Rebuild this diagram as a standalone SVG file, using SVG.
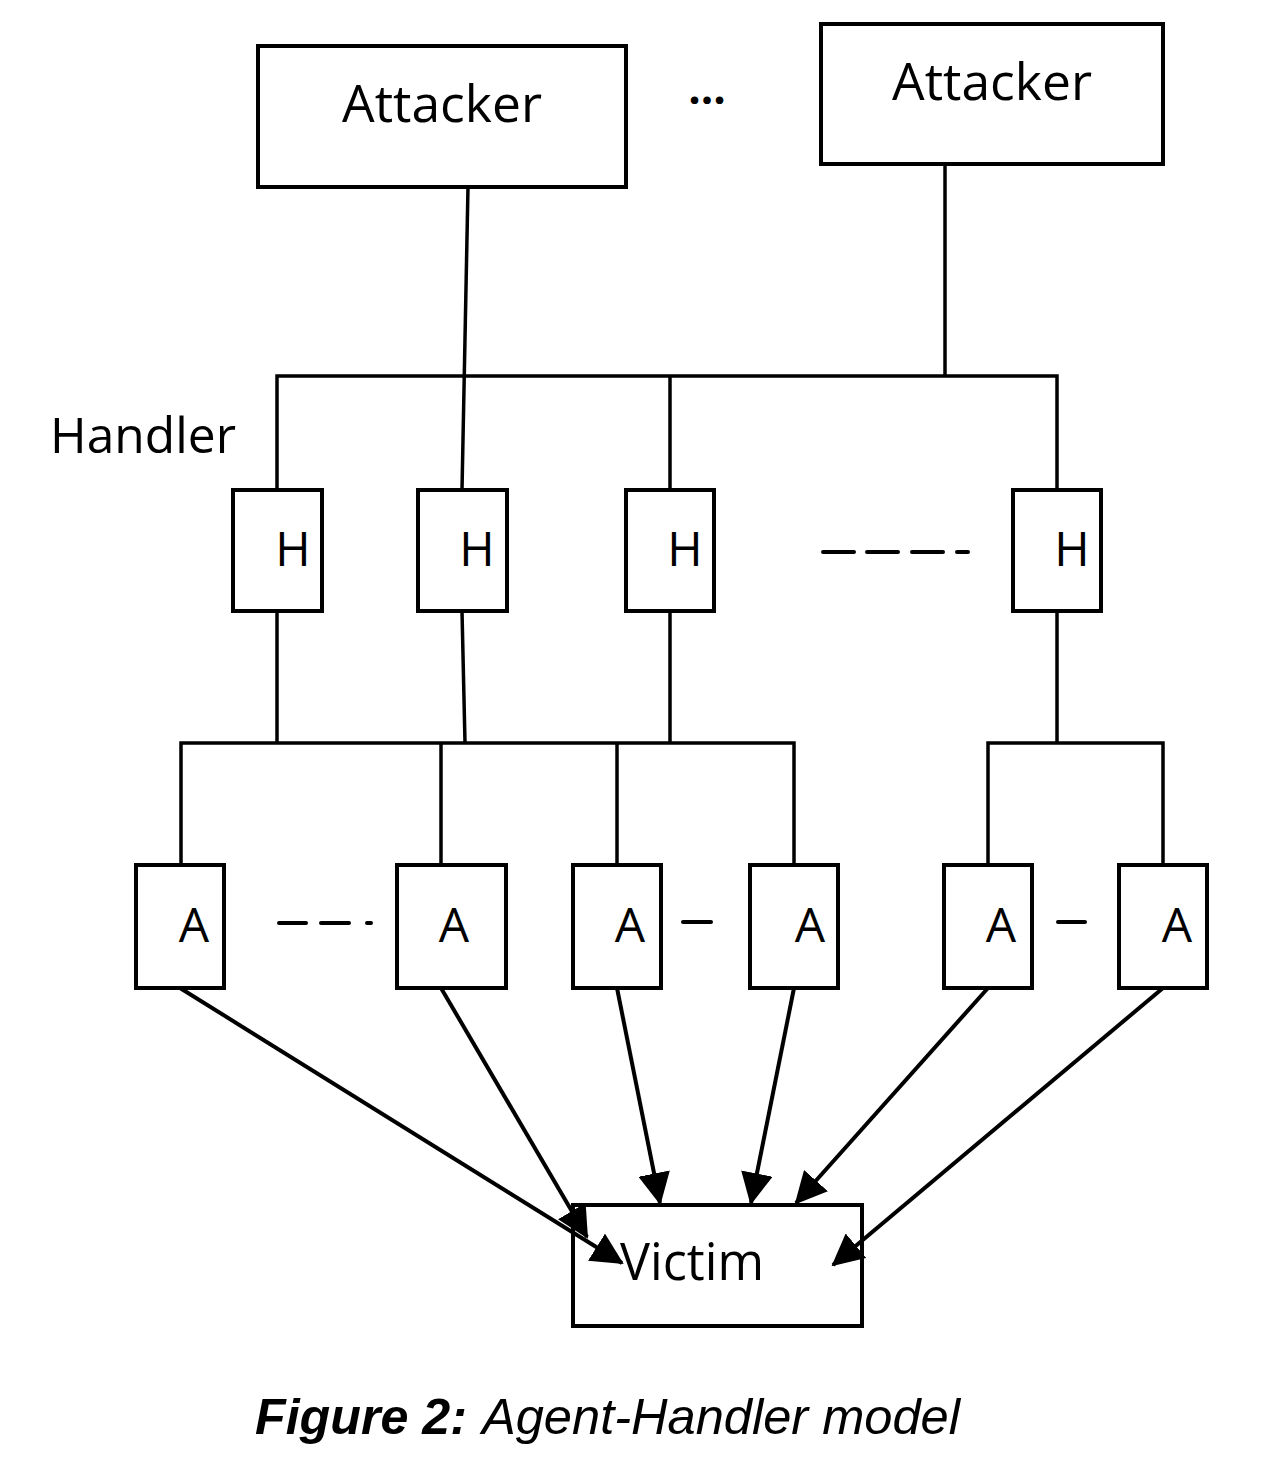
<svg xmlns="http://www.w3.org/2000/svg" width="1288" height="1462" viewBox="0 0 1288 1462">
<style>
.box{fill:#fff;stroke:#000;stroke-width:4}
.ln{fill:none;stroke:#000;stroke-width:3.5}
.arr{fill:none;stroke:#000;stroke-width:4}
.dash{fill:none;stroke:#000;stroke-width:4;stroke-linecap:round}
.t{font-family:"Open Sans","Noto Sans",sans-serif;fill:#000}
.cap{font-family:"Liberation Sans",Arial,sans-serif;font-style:italic;font-size:50px;fill:#000}
</style>
<defs>
<marker id="ah" markerWidth="8" markerHeight="8" refX="7.5" refY="4" orient="auto" markerUnits="strokeWidth" viewBox="0 0 8 8">
<path d="M0,0 L8,4 L0,8 Z" fill="#000"/>
</marker>
</defs>
<rect width="1288" height="1462" fill="#fff"/>
<g id="connectors">
<line class="ln" x1="468" y1="187" x2="462" y2="490"/>
<line class="ln" x1="945" y1="164" x2="945" y2="376"/>
<polyline class="ln" points="277,490 277,376 1057,376 1057,490"/>
<line class="ln" x1="670" y1="376" x2="670" y2="490"/>
<line class="ln" x1="277" y1="611" x2="277" y2="743"/>
<line class="ln" x1="462" y1="611" x2="465" y2="743"/>
<line class="ln" x1="670" y1="611" x2="670" y2="743"/>
<line class="ln" x1="1057" y1="611" x2="1057" y2="743"/>
<polyline class="ln" points="181,865 181,743 794,743 794,865"/>
<line class="ln" x1="441" y1="743" x2="441" y2="865"/>
<line class="ln" x1="617" y1="743" x2="617" y2="865"/>
<polyline class="ln" points="988,865 988,743 1163,743 1163,865"/>
<line class="arr" x1="180" y1="988" x2="622" y2="1263" marker-end="url(#ah)"/>
<line class="arr" x1="441" y1="988" x2="587" y2="1237" marker-end="url(#ah)"/>
<line class="arr" x1="617" y1="988" x2="660" y2="1203" marker-end="url(#ah)"/>
<line class="arr" x1="794" y1="988" x2="751" y2="1203" marker-end="url(#ah)"/>
<line class="arr" x1="988" y1="988" x2="796" y2="1203" marker-end="url(#ah)"/>
<line class="arr" x1="1163" y1="988" x2="833" y2="1265" marker-end="url(#ah)"/>
</g>
<g id="dashes">
<path class="dash" d="M823,552 H854 M867,552 H898 M912,552 H943 M957,552 H968"/>
<path class="dash" d="M279,923 H306 M321,923 H349 M367,923 H371"/>
<path class="dash" d="M683,922 H711"/>
<path class="dash" d="M1058,922 H1085"/>
</g>
<g id="attacker1">
<rect class="box" x="258" y="46" width="368" height="141"/>
<text class="t" x="442" y="122" font-size="52" text-anchor="middle" textLength="200" lengthAdjust="spacingAndGlyphs">Attacker</text>
</g>
<g id="ellipsis">
<text class="t" x="707" y="104" font-size="44" font-weight="bold" text-anchor="middle">...</text>
</g>
<g id="attacker2">
<rect class="box" x="821" y="24" width="342" height="140"/>
<text class="t" x="992" y="100" font-size="52" text-anchor="middle" textLength="200" lengthAdjust="spacingAndGlyphs">Attacker</text>
</g>
<g id="handler-label">
<text class="t" x="50" y="453" font-size="50" textLength="186" lengthAdjust="spacingAndGlyphs">Handler</text>
</g>
<g id="h1"><rect class="box" x="233" y="490" width="89" height="121"/><text class="t" x="293" y="566" font-size="48" text-anchor="middle">H</text></g>
<g id="h2"><rect class="box" x="418" y="490" width="89" height="121"/><text class="t" x="477" y="566" font-size="48" text-anchor="middle">H</text></g>
<g id="h3"><rect class="box" x="626" y="490" width="88" height="121"/><text class="t" x="685" y="566" font-size="48" text-anchor="middle">H</text></g>
<g id="h4"><rect class="box" x="1013" y="490" width="88" height="121"/><text class="t" x="1072" y="566" font-size="48" text-anchor="middle">H</text></g>
<g id="a1"><rect class="box" x="136" y="865" width="88" height="123"/><text class="t" x="194" y="942" font-size="48" text-anchor="middle">A</text></g>
<g id="a2"><rect class="box" x="397" y="865" width="109" height="123"/><text class="t" x="454" y="942" font-size="48" text-anchor="middle">A</text></g>
<g id="a3"><rect class="box" x="573" y="865" width="88" height="123"/><text class="t" x="630" y="942" font-size="48" text-anchor="middle">A</text></g>
<g id="a4"><rect class="box" x="750" y="865" width="88" height="123"/><text class="t" x="810" y="942" font-size="48" text-anchor="middle">A</text></g>
<g id="a5"><rect class="box" x="944" y="865" width="88" height="123"/><text class="t" x="1001" y="942" font-size="48" text-anchor="middle">A</text></g>
<g id="a6"><rect class="box" x="1119" y="865" width="88" height="123"/><text class="t" x="1177" y="942" font-size="48" text-anchor="middle">A</text></g>
<g id="victim">
<rect class="box" x="573" y="1205" width="289" height="121" fill="none" style="fill:none"/>
<text class="t" x="620" y="1280" font-size="51" textLength="144" lengthAdjust="spacingAndGlyphs">Victim</text>
</g>
<g id="caption">
<text class="cap" x="255" y="1434" font-weight="bold" textLength="212" lengthAdjust="spacingAndGlyphs">Figure 2:</text>
<text class="cap" x="482" y="1434" textLength="478" lengthAdjust="spacingAndGlyphs">Agent-Handler model</text>
</g>
</svg>
